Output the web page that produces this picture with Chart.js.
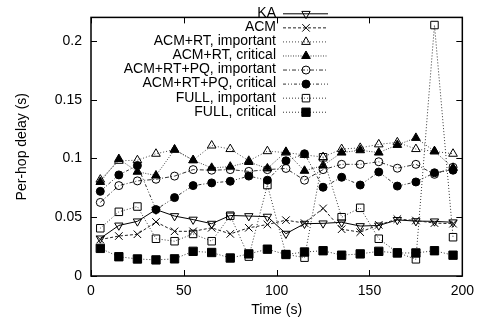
<!DOCTYPE html>
<html>
<head>
<meta charset="utf-8">
<script src="https://cdn.jsdelivr.net/npm/chart.js@4"></script>
<style>
  body { margin: 0; background: #fff; }
  canvas { display: block; }
</style>
</head>
<body>
<canvas id="delay" width="481" height="327"></canvas>
<script>
// time of each sample (s)
const timeSec = [5, 15, 25, 35, 45, 55, 65, 75, 85, 95, 105, 115, 125, 135, 145, 155, 165, 175, 185, 195];

// per-hop delay (s)
const ka = [0.032, 0.043, 0.0465, 0.0565, 0.051, 0.048, 0.0445, 0.0515, 0.051, 0.0505, 0.036, 0.0445, 0.0448, 0.0457, 0.0425, 0.043, 0.0477, 0.0467, 0.0465, 0.0457];
const acm = [0.031, 0.034, 0.0355, 0.046, 0.038, 0.038, 0.041, 0.0358, 0.041, 0.0438, 0.0475, 0.045, 0.0575, 0.0398, 0.0373, 0.0435, 0.0484, 0.0472, 0.045, 0.0445];
const rtImportant = [0.082, 0.098, 0.0985, 0.104, 0.1075, 0.0985, 0.111, 0.108, 0.098, 0.1062, 0.105, 0.103, 0.1012, 0.108, 0.109, 0.112, 0.1137, 0.108, 0.106, 0.104];
const rtCritical = [0.080, 0.0995, 0.0887, 0.0855, 0.1075, 0.0985, 0.092, 0.093, 0.097, 0.0915, 0.1056, 0.0895, 0.094, 0.105, 0.107, 0.105, 0.1115, 0.1175, 0.1062, 0.092];
const pqImportant = [0.0626, 0.0769, 0.0809, 0.0823, 0.085, 0.0905, 0.090, 0.0905, 0.089, 0.0905, 0.0915, 0.0815, 0.0905, 0.095, 0.095, 0.0972, 0.0917, 0.095, 0.0865, 0.0925];
const pqCritical = [0.072, 0.086, 0.094, 0.0565, 0.0667, 0.0769, 0.0792, 0.0806, 0.085, 0.0815, 0.098, 0.104, 0.0755, 0.084, 0.0774, 0.0885, 0.0765, 0.080, 0.0878, 0.090];
const fullImportant = [0.0406, 0.0546, 0.0591, 0.0317, 0.0296, 0.0358, 0.0296, 0.0513, 0.0165, 0.0774, 0.0185, 0.0156, 0.101, 0.050, 0.058, 0.0317, 0.020, 0.0142, 0.2135, 0.033];
const fullCritical = [0.0235, 0.0164, 0.0145, 0.0137, 0.0146, 0.021, 0.020, 0.0153, 0.0188, 0.0228, 0.0183, 0.0204, 0.0215, 0.0177, 0.0188, 0.021, 0.0196, 0.0196, 0.0215, 0.0177];

const xTicks = [0, 50, 100, 150, 200];
const yTicks = [0, 0.05, 0.1, 0.15, 0.2];

Chart.defaults.font.family = '"Liberation Sans", Arial, sans-serif';
Chart.defaults.font.size = 14;
Chart.defaults.color = '#000';

const hollow = 'rgba(0,0,0,0)';

function series(label, values, style) {
    return Object.assign({
        label: label,
        data: values.map((v, i) => ({ x: timeSec[i], y: v })),
        showLine: true,
        borderColor: '#000',
        borderWidth: 1,
        pointBorderColor: '#000',
        pointBorderWidth: 1,
        pointBackgroundColor: hollow,
        pointRadius: 4.5
    }, style);
}

const datasets = [
    series('KA', ka, { pointStyle: 'triangle', pointRotation: 180, pointRadius: 4.8 }),
    series('ACM', acm, { borderDash: [3, 2], borderColor: '#222', pointStyle: 'crossRot', pointRadius: 5.3 }),
    series('ACM+RT, important', rtImportant, { borderDash: [1, 2], borderColor: '#444', pointStyle: 'triangle', pointRadius: 5 }),
    series('ACM+RT, critical', rtCritical, { borderDash: [1, 1.5], borderColor: '#444', pointStyle: 'triangle', pointBackgroundColor: '#000', pointRadius: 5 }),
    series('ACM+RT+PQ, important', pqImportant, { borderDash: [4, 2, 1, 2], borderColor: '#333', pointStyle: 'circle', pointRadius: 4 }),
    series('ACM+RT+PQ, critical', pqCritical, { borderDash: [3, 2, 1, 2, 1, 2], borderColor: '#333', pointStyle: 'circle', pointBackgroundColor: '#000', pointRadius: 4 }),
    series('FULL, important', fullImportant, { borderDash: [1, 2], borderColor: '#333', pointStyle: 'rect', pointRadius: 5.3 }),
    series('FULL, critical', fullCritical, { borderDash: [1, 2], borderColor: '#333', pointStyle: 'rect', pointBackgroundColor: '#000', pointRadius: 5.9 })
];
// gnuplot draws later series on top
datasets.forEach((d, i) => { d.order = datasets.length - i; });

// box round the plot and inward ticks on all four sides
const frame = {
    id: 'frame',
    beforeDatasetsDraw(chart) {
        const { ctx, chartArea: a, scales: { x, y } } = chart;
        ctx.save();
        ctx.strokeStyle = '#000';
        ctx.lineWidth = 1;
        ctx.beginPath();
        xTicks.forEach(v => {
            const px = Math.round(x.getPixelForValue(v)) + 0.5;
            ctx.moveTo(px, a.bottom); ctx.lineTo(px, a.bottom - 6);
            ctx.moveTo(px, a.top); ctx.lineTo(px, a.top + 6);
        });
        yTicks.forEach(v => {
            const py = Math.round(y.getPixelForValue(v)) + 0.5;
            ctx.moveTo(a.left, py); ctx.lineTo(a.left + 6, py);
            ctx.moveTo(a.right, py); ctx.lineTo(a.right - 6, py);
        });
        ctx.stroke();
        ctx.lineWidth = 1.5;
        ctx.strokeRect(a.left, a.top, a.right - a.left, a.bottom - a.top);
        ctx.restore();
    }
};

// gnuplot style key: right aligned text, then line sample with marker
const key = {
    id: 'key',
    afterDatasetsDraw(chart) {
        const ctx = chart.ctx;
        ctx.save();
        ctx.font = '14px "Liberation Sans", Arial, sans-serif';
        ctx.textAlign = 'right';
        ctx.textBaseline = 'middle';
        chart.data.datasets.forEach((d, i) => {
            const ty = 13.3 + 14.06 * i;
            ctx.fillStyle = '#000';
            ctx.fillText(d.label, 276, ty);
            ctx.strokeStyle = d.borderColor;
            ctx.lineWidth = 1;
            ctx.setLineDash(d.borderDash || []);
            ctx.beginPath();
            ctx.moveTo(283, ty + 0.5); ctx.lineTo(328, ty + 0.5);
            ctx.stroke();
            ctx.setLineDash([]);
            ctx.fillStyle = d.pointBackgroundColor;
            ctx.strokeStyle = '#000';
            Chart.helpers.drawPoint(ctx, {
                pointStyle: d.pointStyle,
                rotation: d.pointRotation || 0,
                radius: d.pointRadius,
                borderWidth: 1
            }, 306, ty + 0.5);
        });
        ctx.restore();
    }
};

new Chart(document.getElementById('delay'), {
    type: 'scatter',
    data: { datasets: datasets },
    options: {
        responsive: false,
        animation: false,
        layout: { padding: { top: 3, right: 18, left: 0, bottom: 0 } },
        plugins: { legend: { display: false }, tooltip: { enabled: false } },
        scales: {
            x: {
                type: 'linear',
                min: 0,
                max: 200,
                grid: { display: false, drawTicks: false },
                border: { display: false },
                afterBuildTicks: s => { s.ticks = xTicks.map(v => ({ value: v })); },
                afterFit: s => { s.height = 51; },
                ticks: { padding: 7, maxRotation: 0 },
                title: { display: true, text: 'Time (s)', padding: { top: 0, bottom: 8 } }
            },
            y: {
                type: 'linear',
                min: 0,
                max: 0.22,
                grid: { display: false, drawTicks: false },
                border: { display: false },
                afterBuildTicks: s => { s.ticks = yTicks.map(v => ({ value: v })); },
                afterFit: s => { s.width = 91; },
                ticks: { padding: 9, callback: v => String(+v.toFixed(2)) },
                title: { display: true, text: 'Per-hop delay (s)', padding: { top: 14, bottom: 0 } }
            }
        }
    },
    plugins: [frame, key]
});
</script>
</body>
</html>
